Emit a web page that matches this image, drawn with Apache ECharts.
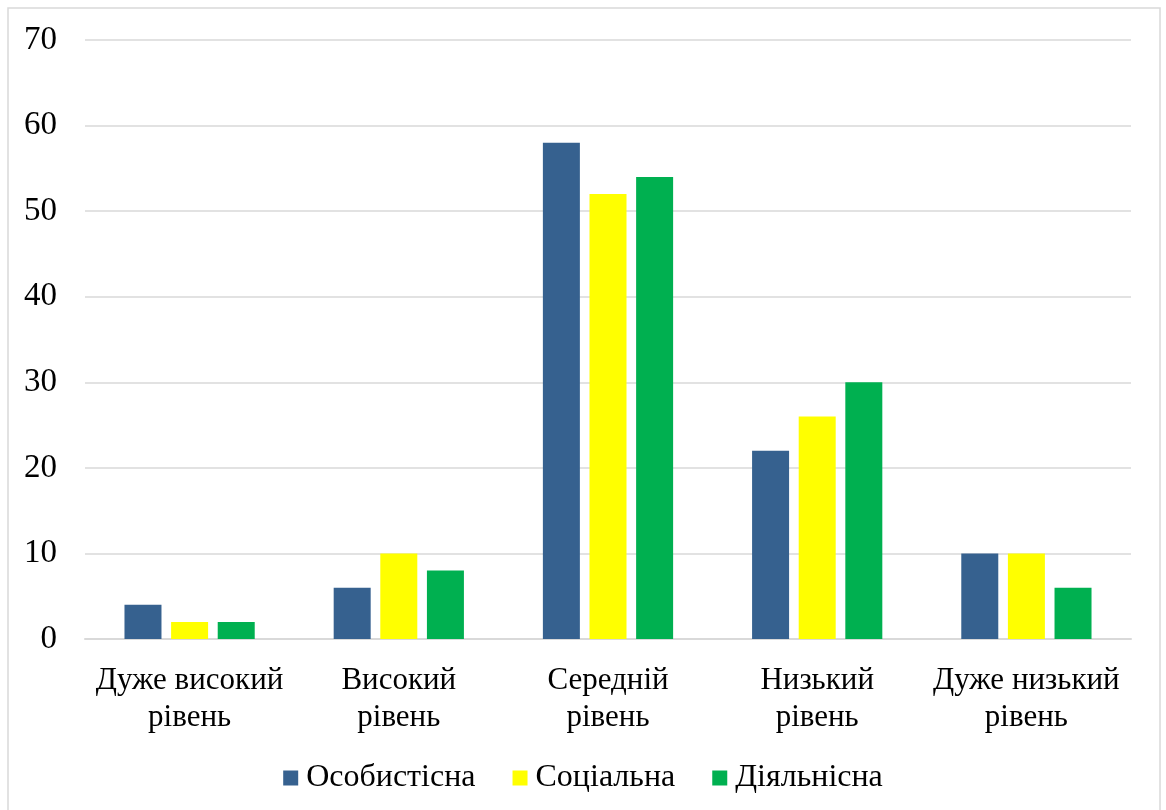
<!DOCTYPE html>
<html>
<head>
<meta charset="utf-8">
<script src="https://cdn.jsdelivr.net/npm/echarts@6/dist/echarts.min.js"></script>
<style>
  html, body { margin: 0; padding: 0; background: #ffffff; }
  #chart { width: 1166px; height: 810px; }
</style>
</head>
<body>
<div id="chart"></div>
<script>
// Рівні сформованості
const categories = ['Дуже високий\nрівень', 'Високий\nрівень', 'Середній\nрівень', 'Низький\nрівень', 'Дуже низький\nрівень'];
const seriesNames = ['Особистісна', 'Соціальна', 'Діяльнісна'];
const personal = [4, 6, 58, 22, 10];
const social = [2, 10, 52, 26, 10];
const activity = [2, 8, 54, 30, 6];
const colors = ['#36618F', '#FFFF00', '#00B050'];

const font = '"Liberation Serif", "Times New Roman", serif';
const chart = echarts.init(document.getElementById('chart'));

chart.setOption({
  animation: false,
  backgroundColor: '#ffffff',
  graphic: [{
    type: 'rect',
    shape: { x: 8, y: 8, width: 1152, height: 810 },
    style: { fill: 'none', stroke: '#d9d9d9', lineWidth: 1.5 },
    silent: true
  }],
  grid: { left: 85, right: 35, top: 40, bottom: 171 },
  legend: {
    top: 757,
    left: 'center',
    itemWidth: 15,
    itemHeight: 15,
    itemGap: 37,
    icon: 'rect',
    textStyle: { fontFamily: font, fontSize: 32, lineHeight: 32, color: '#000000', padding: [0, 0, 0, 3] },
    data: seriesNames
  },
  xAxis: {
    type: 'category',
    data: categories,
    axisLine: { lineStyle: { color: '#d9d9d9', width: 2 } },
    axisTick: { show: false },
    axisLabel: {
      fontFamily: font, fontSize: 31, color: '#000000',
      lineHeight: 37, margin: 23, interval: 0
    }
  },
  yAxis: {
    type: 'value',
    min: 0, max: 70, interval: 10,
    axisLine: { show: false },
    axisTick: { show: false },
    splitLine: { lineStyle: { color: '#d9d9d9', width: 1.5 } },
    axisLabel: { fontFamily: font, fontSize: 33, color: '#000000', margin: 28 }
  },
  series: [
    { name: seriesNames[0], type: 'bar', data: personal, barWidth: 37, barGap: '26%', itemStyle: { color: colors[0] } },
    { name: seriesNames[1], type: 'bar', data: social, barWidth: 37, barGap: '26%', itemStyle: { color: colors[1] } },
    { name: seriesNames[2], type: 'bar', data: activity, barWidth: 37, barGap: '26%', itemStyle: { color: colors[2] } }
  ]
});
</script>
</body>
</html>
